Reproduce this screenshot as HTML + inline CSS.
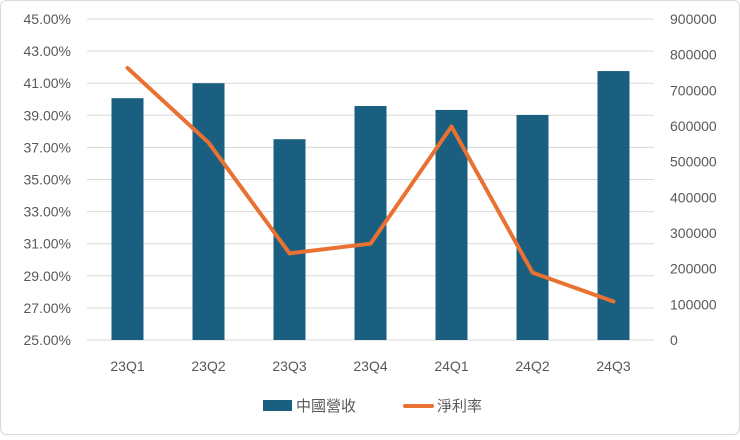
<!DOCTYPE html>
<html><head><meta charset="utf-8"><style>
body{margin:0;background:#fff;}
svg text{font-family:"Liberation Sans","Noto Sans CJK TC",sans-serif;fill:#595959;}
</style></head><body>
<svg id="chart" width="740" height="435">
<rect x="0.5" y="0.5" width="739" height="434" rx="6" fill="#fff" stroke="#d9d9d9"/>
<g id="grid"></g><g id="bars"></g><g id="line"></g><g id="axes"></g>
<g>
<rect x="263" y="400" width="29" height="11" fill="#1a5e80"/>
<text x="296" y="411" font-size="15">中國營收</text>
<line x1="405" y1="406" x2="432" y2="406" stroke="#e97132" stroke-width="4" stroke-linecap="round"/>
<text x="437" y="411" font-size="15">淨利率</text>
</g>
</svg>
<script>
const categories=["23Q1","23Q2","23Q3","23Q4","24Q1","24Q2","24Q3"];
const revenue=[678000,720000,563000,656000,645000,631000,754000];
const margin=[41.95,37.3,30.4,31.0,38.3,29.2,27.4];
const leftTicks=[25,27,29,31,33,35,37,39,41,43,45];
const rightTicks=[0,100000,200000,300000,400000,500000,600000,700000,800000,900000];
const NS="http://www.w3.org/2000/svg";
const X0=87,X1=654,Y0=340,Y1=19;
const step=(X1-X0)/categories.length;
const xc=i=>X0+step*(i+0.5);
const yL=v=>Y0-(v-25)/20*(Y0-Y1);
const yR=v=>Y0-v/900000*(Y0-Y1);
function mk(t,a,p){const e=document.createElementNS(NS,t);for(const k in a)e.setAttribute(k,a[k]);p.appendChild(e);return e;}
const grid=document.getElementById('grid'),bars=document.getElementById('bars'),line=document.getElementById('line'),axes=document.getElementById('axes');
leftTicks.forEach(v=>{
 const g=mk('line',{x1:X0,x2:X1,y1:yL(v),y2:yL(v),stroke:'#d9d9d9','stroke-width':1},grid);
 
 
 const t=mk('text',{x:71,y:yL(v)+5,'font-size':14,'text-anchor':'end'},axes);
 t.textContent=v.toFixed(2)+'%';
 
 
});
rightTicks.forEach(v=>{
 const t=mk('text',{x:670,y:yR(v)+5,'font-size':14},axes);
 t.textContent=String(v);
 
 
});
categories.forEach((c,i)=>{
 const b=mk('rect',{x:xc(i)-16,y:yR(revenue[i]),width:32,height:Y0-yR(revenue[i]),fill:'#1a5e80'},bars);
 
 
 const t=mk('text',{x:xc(i),y:371,'font-size':14,'text-anchor':'middle'},axes);
 t.textContent=c;
 
 
});
const pts=margin.map((v,i)=>xc(i)+','+yL(v)).join(' ');
const pl=mk('polyline',{points:pts,fill:'none',stroke:'#e97132','stroke-width':4,'stroke-linejoin':'round','stroke-linecap':'round'},line);


</script>
</body></html>
